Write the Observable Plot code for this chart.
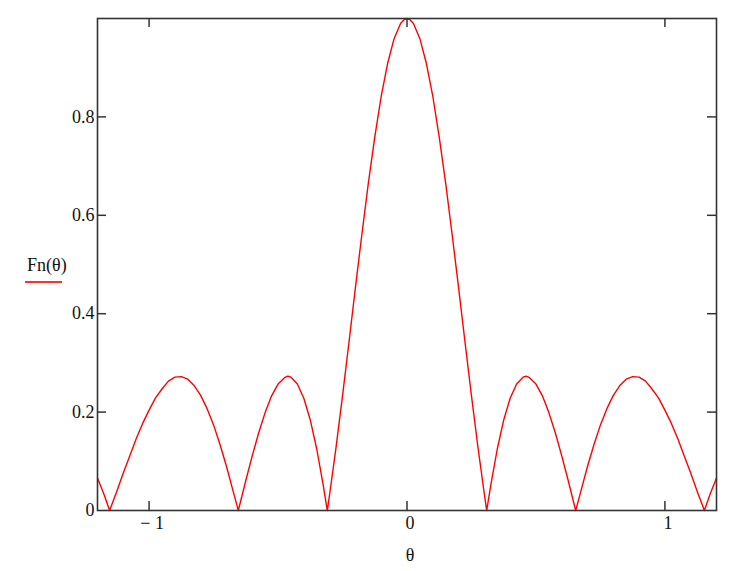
<!DOCTYPE html>
<html>
<head>
<meta charset="utf-8">
<script src="https://cdn.jsdelivr.net/npm/d3@7"></script>
<script src="https://cdn.jsdelivr.net/npm/@observablehq/plot@0.6"></script>
<style>
  html, body { margin: 0; padding: 0; background: #fff; }
  #wrap { position: relative; width: 753px; height: 571px; font-family: "Liberation Serif", "Times New Roman", serif; }
  #legend-text { position: absolute; left: 27px; top: 255px; font-size: 18px; line-height: 20px; color: #111; white-space: nowrap; }
  #legend-line { position: absolute; left: 25px; top: 281px; width: 37px; height: 1.5px; background: #ff3030; }
</style>
</head>
<body>
<div id="wrap">
  <div id="legend-text">Fn(θ)</div>
  <div id="legend-line"></div>
</div>
<script>
// θ values (radians)
const theta = [
  -1.2, -1.175, -1.153, -1.125, -1.1, -1.075, -1.05, -1.025, -1.0, -0.975, -0.95, -0.925, -0.9, -0.875, -0.85, -0.825, -0.8, -0.775, -0.75, -0.725, -0.7, -0.675, -0.654,
  -0.625, -0.6, -0.575, -0.55, -0.525, -0.5, -0.475, -0.462, -0.45, -0.425, -0.4, -0.375, -0.35, -0.325, -0.309,
  -0.3, -0.275, -0.25, -0.225, -0.2, -0.175, -0.15, -0.125, -0.1, -0.075, -0.05, -0.025, -0.0125,
  0,
  0.0125, 0.025, 0.05, 0.075, 0.1, 0.125, 0.15, 0.175, 0.2, 0.225, 0.25, 0.275, 0.3,
  0.309, 0.325, 0.35, 0.375, 0.4, 0.425, 0.45, 0.462, 0.475, 0.5, 0.525, 0.55, 0.575, 0.6, 0.625,
  0.654, 0.675, 0.7, 0.725, 0.75, 0.775, 0.8, 0.825, 0.85, 0.875, 0.9, 0.925, 0.95, 0.975, 1.0, 1.025, 1.05, 1.075, 1.1, 1.125, 1.153, 1.175, 1.2
];
// Fn(θ) values
const fn = [
  0.066, 0.033, 0, 0.039, 0.076, 0.111, 0.146, 0.177, 0.204, 0.229, 0.247, 0.263, 0.271, 0.272, 0.267, 0.254, 0.234, 0.207, 0.174, 0.134, 0.090, 0.041, 0,
  0.061, 0.111, 0.158, 0.199, 0.233, 0.257, 0.270, 0.273, 0.271, 0.257, 0.228, 0.184, 0.125, 0.052, 0,
  0.033, 0.129, 0.233, 0.342, 0.453, 0.561, 0.665, 0.759, 0.842, 0.909, 0.959, 0.990, 0.997,
  1.0,
  0.997, 0.990, 0.959, 0.909, 0.842, 0.759, 0.665, 0.561, 0.453, 0.342, 0.233, 0.129, 0.033,
  0, 0.052, 0.125, 0.184, 0.228, 0.257, 0.271, 0.273, 0.270, 0.257, 0.233, 0.199, 0.158, 0.111, 0.061,
  0, 0.041, 0.090, 0.134, 0.174, 0.207, 0.234, 0.254, 0.267, 0.272, 0.271, 0.263, 0.247, 0.229, 0.204, 0.177, 0.146, 0.111, 0.076, 0.039, 0, 0.033, 0.066
];
const xTicks = [-1, 0, 1];
const yTicks = [0, 0.2, 0.4, 0.6, 0.8];
const yInnerTicks = [0.2, 0.4, 0.6, 0.8];
const xLabel = "θ";

const data = theta.map((t, i) => ({theta: t, fn: fn[i]}));

const W = 753, H = 571;
const mL = 97, mR = 37, mT = 18, mB = 61;
const frameW = W - mL - mR, frameH = H - mT - mB;
const tickLen = 9;
const axisColor = "#333";

const chart = Plot.plot({
  width: W,
  height: H,
  marginLeft: mL,
  marginRight: mR,
  marginTop: mT,
  marginBottom: mB,
  style: {fontFamily: "'Liberation Serif', 'Times New Roman', serif", fontSize: "18px", color: "#111", background: "transparent"},
  x: {domain: [-1.2, 1.2]},
  y: {domain: [0, 1]},
  marks: [
    Plot.line(data, {x: "theta", y: "fn", stroke: "#ff0000", strokeWidth: 1.4}),
    Plot.tickX(xTicks, {x: d => d, insetTop: frameH - tickLen, stroke: axisColor, strokeWidth: 1.5}),
    Plot.tickX(xTicks, {x: d => d, insetBottom: frameH - tickLen, stroke: axisColor, strokeWidth: 1.5}),
    Plot.tickY(yInnerTicks, {y: d => d, insetRight: frameW - tickLen, stroke: axisColor, strokeWidth: 1.5}),
    Plot.tickY(yInnerTicks, {y: d => d, insetLeft: frameW - tickLen, stroke: axisColor, strokeWidth: 1.5}),
    Plot.frame({stroke: axisColor, strokeWidth: 1.6}),
    Plot.axisX(xTicks, {tickSize: 0, tickPadding: 6, dx: 3, fontSize: 18, label: null,
      tickFormat: d => d < 0 ? "\u2212 " + Math.abs(d) : String(d)}),
    Plot.axisY(yTicks, {tickSize: 0, tickPadding: 3, fontSize: 18, label: null,
      tickFormat: d => d === 0 ? "0" : d.toFixed(1)}),
    Plot.text([xLabel], {text: d => d, frameAnchor: "bottom", dy: 45, dx: 3, fontSize: 18, lineAnchor: "middle"})
  ]
});

document.getElementById("wrap").prepend(chart);
</script>
</body>
</html>
